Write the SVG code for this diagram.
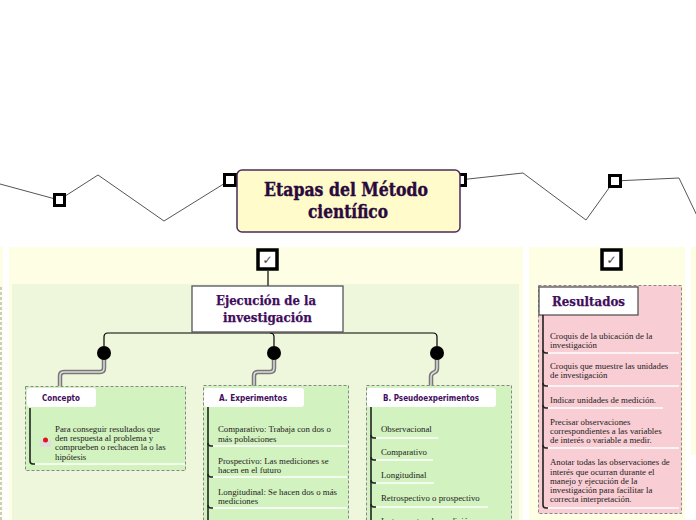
<svg xmlns="http://www.w3.org/2000/svg" width="696" height="520" viewBox="0 0 696 520">
<defs>
<style>
.lane{fill:#FEFEE4}
.sq{fill:#fff;stroke:#000;stroke-width:3}
.chk{fill:#fff;stroke:#000;stroke-width:3.5}
.chkt{font-family:"DejaVu Sans",sans-serif;font-size:12px;fill:#444;text-anchor:middle}
.zig{fill:none;stroke:#555;stroke-width:1}
.title{font-family:"DejaVu Serif",serif;font-weight:bold;font-size:18px;fill:#2A0A3C;text-anchor:middle;stroke:#2A0A3C;stroke-width:0.4}
.main{font-family:"DejaVu Serif",serif;font-weight:bold;font-size:12.5px;fill:#3F0E5C;text-anchor:middle;stroke:#3F0E5C;stroke-width:0.25}
.hdr{font-family:"DejaVu Sans",sans-serif;font-weight:bold;font-size:8.5px;fill:#3F0E5C}
.body{font-family:"Liberation Serif",serif;font-size:8.8px;fill:#222}
.box{stroke:#888;stroke-width:1;stroke-dasharray:3 2}
.hbox{fill:#fff}
.br{fill:none;stroke:#222;stroke-width:1.6}
.sep{fill:none;stroke:#fff;stroke-width:1.5}
.pipeo{fill:none;stroke:#777;stroke-width:4.5}
.pipei{fill:none;stroke:#ddd;stroke-width:1.5}
.conn{fill:none;stroke:#000;stroke-width:1.2}
</style>
</defs>
<rect width="696" height="520" fill="#fff"/>

<!-- lanes -->
<g id="lanes">
<rect class="lane" x="0" y="247" width="3" height="273"/>
<line x1="1" y1="287" x2="1" y2="520" stroke="#999" stroke-width="1" stroke-dasharray="3 2"/>
<rect class="lane" x="9" y="247" width="514" height="273"/>
<rect x="12" y="284" width="507" height="236" fill="#EEF7DB"/>
<rect class="lane" x="529" y="247" width="156" height="273"/>
<rect class="lane" x="691" y="247" width="5" height="208"/>
</g>

<!-- connectors -->
<g id="connectors">
<path class="zig" d="M0,184 L59,200 L98,175 L164,221 L230,180"/>
<path class="zig" d="M459,180 L523,173 L586,220 L614,181 L679,178 L700,222"/>
<line class="conn" x1="268" y1="271" x2="268" y2="287"/>
<path class="conn" d="M104,346 V337 Q104,333 108,333 H433 Q437,333 437,337 V346"/>
<path class="conn" d="M270,333 Q274,333 274,337 V346"/>
<path class="pipeo" d="M104,358 V368 Q104,372 100,372 H64 Q60,372 60,376 V386"/>
<path class="pipei" d="M104,358 V368 Q104,372 100,372 H64 Q60,372 60,376 V386"/>
<path class="pipeo" d="M274,358 V368 Q274,372 270,372 H258 Q254,372 254,376 V386"/>
<path class="pipei" d="M274,358 V368 Q274,372 270,372 H258 Q254,372 254,376 V386"/>
<path class="pipeo" d="M437,358 V368 Q437,371 435,372 L433,373 Q431,374 431,377 V386"/>
<path class="pipei" d="M437,358 V368 Q437,371 435,372 L433,373 Q431,374 431,377 V386"/>
<circle cx="104" cy="353" r="7" fill="#000"/>
<circle cx="274" cy="353" r="7" fill="#000"/>
<circle cx="437" cy="353" r="7" fill="#000"/>
</g>

<!-- markers on zigzag -->
<g id="markers">
<rect class="sq" x="54.5" y="194.5" width="10" height="11"/>
<rect class="sq" x="224.5" y="174.5" width="11" height="11"/>
<rect class="sq" x="454.5" y="174.5" width="11" height="11"/>
<rect class="sq" x="609.5" y="175.5" width="11" height="11"/>
</g>

<!-- title -->
<g id="title">
<rect x="237" y="170" width="223" height="62" rx="5" fill="#FFFBCB" stroke="#4B2A5E" stroke-width="1.5"/>
<text class="title" x="346" y="196" textLength="164" lengthAdjust="spacingAndGlyphs">Etapas del Método</text>
<text class="title" x="348" y="218" textLength="80" lengthAdjust="spacingAndGlyphs">científico</text>
</g>

<!-- check boxes -->
<g id="check-ejecucion">
<rect class="chk" x="258" y="250" width="19" height="19"/>
<text class="chkt" x="267.5" y="264">✓</text>
</g>
<g id="check-resultados">
<rect class="chk" x="602" y="250" width="19" height="19"/>
<text class="chkt" x="611.5" y="264">✓</text>
</g>

<!-- Ejecución -->
<g id="ejecucion">
<rect x="192" y="286" width="151" height="46" fill="#fff" stroke="#555" stroke-width="1.3"/>
<text class="main" x="266" y="305" textLength="100" lengthAdjust="spacingAndGlyphs">Ejecución de la</text>
<text class="main" x="267.5" y="322" textLength="89" lengthAdjust="spacingAndGlyphs">investigación</text>
</g>

<!-- Concepto -->
<g id="concepto">
<rect class="box" x="25.5" y="386.5" width="160" height="84" fill="#D2F2BF"/>
<rect class="hbox" x="27" y="388" width="69" height="19" rx="3"/>
<text class="hdr" x="42" y="401" textLength="38" lengthAdjust="spacingAndGlyphs">Concepto</text>
<path class="br" d="M30,408 V461 Q30,464 33,464 H35"/>
<line class="sep" x1="35" y1="464" x2="185" y2="464"/>
<rect x="40" y="440" width="11" height="7" fill="#ddd"/>
<circle cx="45.5" cy="440" r="2.5" fill="#e0141e"/>
<text class="body" x="55" y="432">Para conseguir resultados que</text>
<text class="body" x="55" y="441">den respuesta al problema y</text>
<text class="body" x="55" y="450">comprueben o rechacen la o las</text>
<text class="body" x="55" y="460">hipótesis</text>
</g>

<!-- A. Experimentos -->
<g id="experimentos">
<rect class="box" x="203.5" y="385.5" width="145" height="140" fill="#D2F2BF"/>
<rect class="hbox" x="204" y="388" width="100" height="19" rx="3"/>
<text class="hdr" x="219" y="401" textLength="68" lengthAdjust="spacingAndGlyphs">A. Experimentos</text>
<path class="br" d="M208,407 V520"/>
<path class="br" d="M208,443 Q208,446 211,446 H213"/>
<path class="br" d="M208,474 Q208,477 211,477 H213"/>
<path class="br" d="M208,505 Q208,508 211,508 H213"/>
<line class="sep" x1="213" y1="446" x2="347" y2="446"/>
<line class="sep" x1="213" y1="477" x2="347" y2="477"/>
<line class="sep" x1="213" y1="508" x2="347" y2="508"/>
<text class="body" x="218" y="432">Comparativo: Trabaja con dos o</text>
<text class="body" x="218" y="442">más poblaciones</text>
<text class="body" x="218" y="464">Prospectivo: Las mediciones se</text>
<text class="body" x="218" y="473">hacen en el futuro</text>
<text class="body" x="218" y="495">Longitudinal: Se hacen dos o más</text>
<text class="body" x="218" y="504">mediciones</text>
</g>

<!-- B. Pseudoexperimentos -->
<g id="pseudoexperimentos">
<rect class="box" x="366.5" y="385.5" width="145" height="140" fill="#D2F2BF"/>
<rect class="hbox" x="367" y="388" width="129" height="19" rx="3"/>
<text class="hdr" x="383" y="401" textLength="96" lengthAdjust="spacingAndGlyphs">B. Pseudoexperimentos</text>
<path class="br" d="M371,407 V520"/>
<path class="br" d="M371,435 Q371,438 374,438 H376"/>
<path class="br" d="M371,457 Q371,460 374,460 H376"/>
<path class="br" d="M371,480 Q371,483 374,483 H376"/>
<path class="br" d="M371,504 Q371,507 374,507 H376"/>
<line class="sep" x1="376" y1="438" x2="438" y2="438"/>
<line class="sep" x1="376" y1="460" x2="433" y2="460"/>
<line class="sep" x1="376" y1="483" x2="434" y2="483"/>
<line class="sep" x1="376" y1="507" x2="488" y2="507"/>
<text class="body" x="381" y="432">Observacional</text>
<text class="body" x="381" y="455">Comparativo</text>
<text class="body" x="381" y="478">Longitudinal</text>
<text class="body" x="381" y="501">Retrospectivo o prospectivo</text>
<text class="body" x="381" y="524">Instrumentos de medición</text>
</g>

<!-- Resultados -->
<g id="resultados">
<rect class="box" x="538.5" y="285.5" width="143" height="228" fill="#F9CDD4"/>
<rect x="539" y="287" width="99" height="28" fill="#fff" stroke="#555" stroke-width="1.3"/>
<text class="main" x="588.5" y="306" textLength="73" lengthAdjust="spacingAndGlyphs" font-size="12px">Resultados</text>
<path class="br" d="M543,315 V505 Q543,508 546,508 H548"/>
<path class="br" d="M543,350 Q543,353 546,353 H548"/>
<path class="br" d="M543,383 Q543,386 546,386 H548"/>
<path class="br" d="M543,405 Q543,408 546,408 H548"/>
<path class="br" d="M543,445 Q543,448 546,448 H548"/>
<line class="sep" x1="548" y1="353" x2="679" y2="353"/>
<line class="sep" x1="548" y1="386" x2="679" y2="386"/>
<line class="sep" x1="548" y1="408" x2="663" y2="408"/>
<line class="sep" x1="548" y1="448" x2="679" y2="448"/>
<line class="sep" x1="548" y1="508" x2="679" y2="508"/>
<text class="body" x="550" y="339">Croquis de la ubicación de la</text>
<text class="body" x="550" y="348">investigación</text>
<text class="body" x="550" y="369">Croquis que muestre las unidades</text>
<text class="body" x="550" y="378">de investigación</text>
<text class="body" x="550" y="403">Indicar unidades de medición.</text>
<text class="body" x="550" y="425">Precisar observaciones</text>
<text class="body" x="550" y="434">correspondientes a las variables</text>
<text class="body" x="550" y="443">de interés o variable a medir.</text>
<text class="body" x="550" y="465">Anotar todas las observaciones de</text>
<text class="body" x="550" y="475">interés que ocurran durante el</text>
<text class="body" x="550" y="484">manejo y ejecución de la</text>
<text class="body" x="550" y="493">investigación para facilitar la</text>
<text class="body" x="550" y="502">correcta interpretación.</text>
</g>
</svg>
